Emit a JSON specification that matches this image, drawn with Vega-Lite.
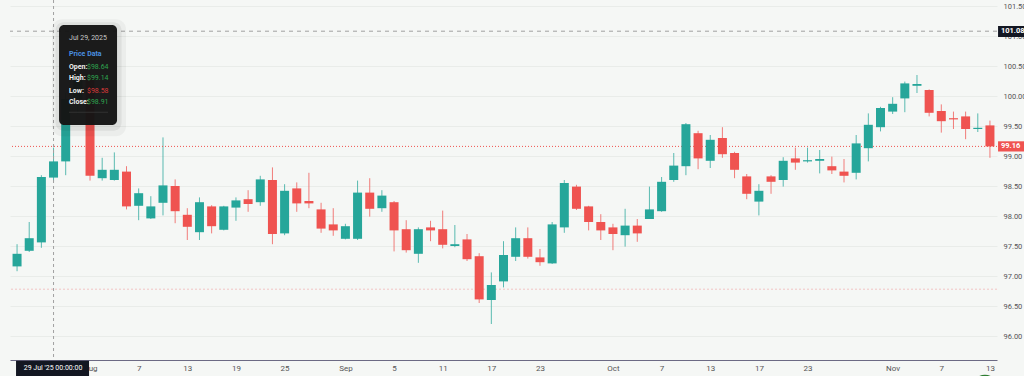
{
  "$schema": "https://vega.github.io/schema/vega-lite/v6.json",
  "width": 987,
  "height": 360,
  "autosize": {"type": "none"},
  "padding": {"left": 10, "top": 0, "right": 27, "bottom": 16},
  "background": "#f5f7f5",
  "config": {
    "view": {"stroke": null},
    "font": "Roboto",
    "text": {"font": "Roboto"}
  },
  "datasets": {
    "ohlc": [
      {"date": "2025-07-24", "open": 97.16, "high": 97.53, "low": 97.08, "close": 97.37},
      {"date": "2025-07-25", "open": 97.42, "high": 97.90, "low": 97.40, "close": 97.63},
      {"date": "2025-07-28", "open": 97.56, "high": 98.68, "low": 97.47, "close": 98.65},
      {"date": "2025-07-29", "open": 98.64, "high": 99.14, "low": 98.58, "close": 98.91},
      {"date": "2025-07-30", "open": 98.91, "high": 100.05, "low": 98.68, "close": 99.95},
      {"date": "2025-07-31", "open": 99.95, "high": 100.55, "low": 99.70, "close": 100.35},
      {"date": "2025-08-01", "open": 100.30, "high": 100.40, "low": 98.59, "close": 98.67},
      {"date": "2025-08-04", "open": 98.63, "high": 98.97, "low": 98.59, "close": 98.77},
      {"date": "2025-08-05", "open": 98.60, "high": 99.06, "low": 98.59, "close": 98.77},
      {"date": "2025-08-06", "open": 98.74, "high": 98.83, "low": 98.11, "close": 98.16},
      {"date": "2025-08-07", "open": 98.17, "high": 98.46, "low": 97.93, "close": 98.38},
      {"date": "2025-08-08", "open": 97.96, "high": 98.33, "low": 97.95, "close": 98.16},
      {"date": "2025-08-11", "open": 98.22, "high": 99.31, "low": 98.01, "close": 98.51},
      {"date": "2025-08-12", "open": 98.50, "high": 98.61, "low": 97.88, "close": 98.08},
      {"date": "2025-08-13", "open": 98.02, "high": 98.13, "low": 97.60, "close": 97.82},
      {"date": "2025-08-14", "open": 97.73, "high": 98.31, "low": 97.60, "close": 98.23},
      {"date": "2025-08-15", "open": 98.16, "high": 98.18, "low": 97.71, "close": 97.83},
      {"date": "2025-08-18", "open": 97.77, "high": 98.17, "low": 97.76, "close": 98.16},
      {"date": "2025-08-19", "open": 98.14, "high": 98.31, "low": 97.92, "close": 98.26},
      {"date": "2025-08-20", "open": 98.28, "high": 98.43, "low": 98.07, "close": 98.20},
      {"date": "2025-08-21", "open": 98.23, "high": 98.67, "low": 98.17, "close": 98.61},
      {"date": "2025-08-22", "open": 98.60, "high": 98.81, "low": 97.53, "close": 97.70},
      {"date": "2025-08-25", "open": 97.71, "high": 98.53, "low": 97.68, "close": 98.42},
      {"date": "2025-08-26", "open": 98.46, "high": 98.56, "low": 98.07, "close": 98.21},
      {"date": "2025-08-27", "open": 98.25, "high": 98.72, "low": 98.13, "close": 98.21},
      {"date": "2025-08-28", "open": 98.11, "high": 98.22, "low": 97.72, "close": 97.79},
      {"date": "2025-08-29", "open": 97.86, "high": 98.13, "low": 97.67, "close": 97.76},
      {"date": "2025-09-01", "open": 97.62, "high": 97.87, "low": 97.61, "close": 97.83},
      {"date": "2025-09-02", "open": 97.62, "high": 98.59, "low": 97.60, "close": 98.39},
      {"date": "2025-09-03", "open": 98.39, "high": 98.63, "low": 97.99, "close": 98.12},
      {"date": "2025-09-04", "open": 98.13, "high": 98.43, "low": 98.07, "close": 98.34},
      {"date": "2025-09-05", "open": 98.23, "high": 98.25, "low": 97.41, "close": 97.76},
      {"date": "2025-09-08", "open": 97.78, "high": 97.93, "low": 97.39, "close": 97.43},
      {"date": "2025-09-09", "open": 97.37, "high": 97.81, "low": 97.22, "close": 97.78},
      {"date": "2025-09-10", "open": 97.81, "high": 97.92, "low": 97.58, "close": 97.76},
      {"date": "2025-09-11", "open": 97.78, "high": 98.09, "low": 97.46, "close": 97.52},
      {"date": "2025-09-12", "open": 97.50, "high": 97.85, "low": 97.48, "close": 97.53},
      {"date": "2025-09-15", "open": 97.61, "high": 97.70, "low": 97.25, "close": 97.28},
      {"date": "2025-09-16", "open": 97.33, "high": 97.38, "low": 96.55, "close": 96.61},
      {"date": "2025-09-17", "open": 96.60, "high": 97.06, "low": 96.20, "close": 96.85},
      {"date": "2025-09-18", "open": 96.91, "high": 97.58, "low": 96.81, "close": 97.35},
      {"date": "2025-09-19", "open": 97.32, "high": 97.81, "low": 97.25, "close": 97.63},
      {"date": "2025-09-22", "open": 97.63, "high": 97.81, "low": 97.29, "close": 97.32},
      {"date": "2025-09-23", "open": 97.31, "high": 97.45, "low": 97.17, "close": 97.23},
      {"date": "2025-09-24", "open": 97.21, "high": 97.90, "low": 97.20, "close": 97.86},
      {"date": "2025-09-25", "open": 97.81, "high": 98.60, "low": 97.72, "close": 98.55},
      {"date": "2025-09-26", "open": 98.49, "high": 98.52, "low": 98.10, "close": 98.12},
      {"date": "2025-09-29", "open": 98.16, "high": 98.17, "low": 97.76, "close": 97.90},
      {"date": "2025-09-30", "open": 97.90, "high": 98.03, "low": 97.60, "close": 97.76},
      {"date": "2025-10-01", "open": 97.81, "high": 97.87, "low": 97.43, "close": 97.70},
      {"date": "2025-10-02", "open": 97.68, "high": 98.12, "low": 97.49, "close": 97.84},
      {"date": "2025-10-03", "open": 97.84, "high": 97.95, "low": 97.57, "close": 97.71},
      {"date": "2025-10-06", "open": 97.95, "high": 98.49, "low": 97.95, "close": 98.11},
      {"date": "2025-10-07", "open": 98.08, "high": 98.65, "low": 98.07, "close": 98.57},
      {"date": "2025-10-08", "open": 98.60, "high": 99.05, "low": 98.57, "close": 98.84},
      {"date": "2025-10-09", "open": 98.83, "high": 99.55, "low": 98.68, "close": 99.53},
      {"date": "2025-10-10", "open": 99.38, "high": 99.42, "low": 98.78, "close": 98.96},
      {"date": "2025-10-13", "open": 98.92, "high": 99.35, "low": 98.80, "close": 99.27},
      {"date": "2025-10-14", "open": 99.30, "high": 99.48, "low": 98.97, "close": 99.03},
      {"date": "2025-10-15", "open": 99.05, "high": 99.07, "low": 98.63, "close": 98.77},
      {"date": "2025-10-16", "open": 98.66, "high": 98.70, "low": 98.28, "close": 98.37},
      {"date": "2025-10-17", "open": 98.24, "high": 98.53, "low": 98.01, "close": 98.42},
      {"date": "2025-10-20", "open": 98.66, "high": 98.68, "low": 98.37, "close": 98.57},
      {"date": "2025-10-21", "open": 98.60, "high": 98.98, "low": 98.49, "close": 98.92},
      {"date": "2025-10-22", "open": 98.96, "high": 99.14, "low": 98.77, "close": 98.89},
      {"date": "2025-10-23", "open": 98.91, "high": 99.14, "low": 98.89, "close": 98.93},
      {"date": "2025-10-24", "open": 98.92, "high": 99.10, "low": 98.71, "close": 98.95},
      {"date": "2025-10-27", "open": 98.83, "high": 98.99, "low": 98.70, "close": 98.76},
      {"date": "2025-10-28", "open": 98.74, "high": 98.95, "low": 98.56, "close": 98.67},
      {"date": "2025-10-29", "open": 98.72, "high": 99.35, "low": 98.61, "close": 99.21},
      {"date": "2025-10-30", "open": 99.13, "high": 99.71, "low": 98.91, "close": 99.52},
      {"date": "2025-10-31", "open": 99.48, "high": 99.82, "low": 99.41, "close": 99.80},
      {"date": "2025-11-03", "open": 99.74, "high": 99.98, "low": 99.70, "close": 99.87},
      {"date": "2025-11-04", "open": 99.96, "high": 100.24, "low": 99.73, "close": 100.21},
      {"date": "2025-11-05", "open": 100.17, "high": 100.35, "low": 100.05, "close": 100.20},
      {"date": "2025-11-06", "open": 100.10, "high": 100.11, "low": 99.66, "close": 99.72},
      {"date": "2025-11-07", "open": 99.75, "high": 99.86, "low": 99.39, "close": 99.58},
      {"date": "2025-11-10", "open": 99.63, "high": 99.74, "low": 99.45, "close": 99.61},
      {"date": "2025-11-11", "open": 99.66, "high": 99.74, "low": 99.28, "close": 99.45},
      {"date": "2025-11-12", "open": 99.45, "high": 99.71, "low": 99.40, "close": 99.47},
      {"date": "2025-11-13", "open": 99.51, "high": 99.59, "low": 98.97, "close": 99.16}
    ]
  },
  "data": {"name": "ohlc"},
  "layer": [
    {
      "mark": {"type": "rule", "strokeWidth": 1, "opacity": 0.75},
      "encoding": {
        "x": {
          "field": "date", "type": "ordinal",
          "scale": {"type": "point", "padding": 0.58},
          "axis": {
            "title": null,
            "values": ["2025-08-01", "2025-08-07", "2025-08-13", "2025-08-19", "2025-08-25", "2025-09-01", "2025-09-05", "2025-09-11", "2025-09-17", "2025-09-23", "2025-10-01", "2025-10-07", "2025-10-13", "2025-10-17", "2025-10-23", "2025-11-03", "2025-11-07", "2025-11-13"],
            "labelExpr": "datum.value == '2025-08-01' ? 'Aug' : datum.value == '2025-09-01' ? 'Sep' : datum.value == '2025-10-01' ? 'Oct' : datum.value == '2025-11-03' ? 'Nov' : '' + toNumber(substring(datum.value, 8, 10))",
            "labelAngle": 0,
            "labelFontSize": 8,
            "labelColor": "#555555",
            "labelFont": "Roboto",
            "labelPadding": 4,
            "labelOverlap": false,
            "ticks": false,
            "tickSize": 0,
            "domainColor": "#6c6a84",
            "domainWidth": 1,
            "grid": false
          }
        },
        "y": {
          "field": "low", "type": "quantitative",
          "scale": {"domain": [95.6, 101.6], "nice": false, "zero": false},
          "axis": {
            "orient": "right",
            "title": null,
            "values": [96, 96.5, 97, 97.5, 98, 98.5, 99, 99.5, 100, 100.5, 101, 101.5],
            "tickCount": 30,
            "format": ".2f",
            "labelFontSize": 7.5,
            "labelColor": "#555555",
            "labelFont": "Roboto",
            "labelPadding": 6,
            "labelOverlap": false,
            "labelBound": false,
            "ticks": false,
            "tickSize": 0,
            "domain": false,
            "grid": true,
            "gridColor": "#e9ece9",
            "gridWidth": 1
          }
        },
        "y2": {"field": "high"},
        "color": {"condition": {"test": "datum.close >= datum.open", "value": "#26a69a"}, "value": "#ef5350"}
      }
    },
    {
      "data": {"values": [{}]},
      "mark": {"type": "rule", "color": "#f2c4c4", "strokeWidth": 1, "strokeDash": [2, 2]},
      "encoding": {"y": {"datum": 96.78}}
    },
    {
      "transform": [{"filter": "datum.date == '2025-11-13'"}],
      "mark": {"type": "rule", "color": "#ef5350", "strokeWidth": 1, "strokeDash": [1, 2]},
      "encoding": {"y": {"field": "close", "type": "quantitative"}}
    },
    {
      "data": {"values": [{}]},
      "mark": {"type": "rule", "color": "#a0a0a0", "strokeWidth": 1, "strokeDash": [4, 4]},
      "encoding": {"y": {"datum": 101.08}}
    },
    {
      "transform": [{"filter": "datum.date == '2025-07-29'"}],
      "mark": {"type": "rule", "color": "#a0a0a0", "strokeWidth": 1, "strokeDash": [3, 3]},
      "encoding": {"x": {"field": "date", "type": "ordinal"}}
    },
    {
      "mark": {"type": "bar", "width": 9},
      "encoding": {
        "x": {"field": "date", "type": "ordinal"},
        "y": {"field": "open", "type": "quantitative"},
        "y2": {"field": "close"},
        "color": {"condition": {"test": "datum.close >= datum.open", "value": "#26a69a"}, "value": "#ef5350"}
      }
    },
    {
      "transform": [{"filter": "datum.date == '2025-07-29'"}],
      "mark": {"type": "bar", "width": 74, "xOffset": 35.5, "color": "#000000", "opacity": 0.04, "cornerRadius": 10},
      "encoding": {"x": {"field": "date", "type": "ordinal"}, "y": {"datum": 101.28}, "y2": {"datum": 99.33}}
    },
    {
      "transform": [{"filter": "datum.date == '2025-07-29'"}],
      "mark": {"type": "bar", "width": 66, "xOffset": 35, "color": "#000000", "opacity": 0.06, "cornerRadius": 8},
      "encoding": {"x": {"field": "date", "type": "ordinal"}, "y": {"datum": 101.23}, "y2": {"datum": 99.42}}
    },
    {
      "transform": [{"filter": "datum.date == '2025-07-29'"}],
      "mark": {"type": "bar", "width": 58, "xOffset": 34.5, "color": "#151515", "opacity": 0.97, "cornerRadius": 5},
      "encoding": {"x": {"field": "date", "type": "ordinal"}, "y": {"datum": 101.183}, "y2": {"datum": 99.517}}
    },
    {
      "transform": [{"filter": "datum.date == '2025-07-29'"}],
      "mark": {"type": "text", "text": "Jul 29, 2025", "align": "left", "baseline": "middle", "xOffset": 15.5, "fontSize": 7, "color": "#c8c8c8"},
      "encoding": {"x": {"field": "date", "type": "ordinal"}, "y": {"datum": 100.962}}
    },
    {
      "transform": [{"filter": "datum.date == '2025-07-29'"}],
      "mark": {"type": "text", "text": "Price Data", "align": "left", "baseline": "middle", "xOffset": 15.5, "fontSize": 7, "fontWeight": "bold", "color": "#4a8fe0"},
      "encoding": {"x": {"field": "date", "type": "ordinal"}, "y": {"datum": 100.70}}
    },
    {
      "transform": [{"filter": "datum.date == '2025-07-29'"}],
      "mark": {"type": "text", "text": "Open:", "align": "left", "baseline": "middle", "xOffset": 15.5, "fontSize": 7, "fontWeight": "bold", "color": "#f0f0f0"},
      "encoding": {"x": {"field": "date", "type": "ordinal"}, "y": {"datum": 100.478}}
    },
    {
      "transform": [{"filter": "datum.date == '2025-07-29'"}],
      "mark": {"type": "text", "align": "right", "baseline": "middle", "xOffset": 55, "fontSize": 7, "color": "#2ea44f"},
      "encoding": {"x": {"field": "date", "type": "ordinal"}, "y": {"datum": 100.478}, "text": {"field": "open", "type": "quantitative", "format": "$.2f"}}
    },
    {
      "transform": [{"filter": "datum.date == '2025-07-29'"}],
      "mark": {"type": "text", "text": "High:", "align": "left", "baseline": "middle", "xOffset": 15.5, "fontSize": 7, "fontWeight": "bold", "color": "#f0f0f0"},
      "encoding": {"x": {"field": "date", "type": "ordinal"}, "y": {"datum": 100.295}}
    },
    {
      "transform": [{"filter": "datum.date == '2025-07-29'"}],
      "mark": {"type": "text", "align": "right", "baseline": "middle", "xOffset": 55, "fontSize": 7, "color": "#2ea44f"},
      "encoding": {"x": {"field": "date", "type": "ordinal"}, "y": {"datum": 100.295}, "text": {"field": "high", "type": "quantitative", "format": "$.2f"}}
    },
    {
      "transform": [{"filter": "datum.date == '2025-07-29'"}],
      "mark": {"type": "text", "text": "Low:", "align": "left", "baseline": "middle", "xOffset": 15.5, "fontSize": 7, "fontWeight": "bold", "color": "#f0f0f0"},
      "encoding": {"x": {"field": "date", "type": "ordinal"}, "y": {"datum": 100.088}}
    },
    {
      "transform": [{"filter": "datum.date == '2025-07-29'"}],
      "mark": {"type": "text", "align": "right", "baseline": "middle", "xOffset": 55, "fontSize": 7, "color": "#d93a3a"},
      "encoding": {"x": {"field": "date", "type": "ordinal"}, "y": {"datum": 100.088}, "text": {"field": "low", "type": "quantitative", "format": "$.2f"}}
    },
    {
      "transform": [{"filter": "datum.date == '2025-07-29'"}],
      "mark": {"type": "text", "text": "Close:", "align": "left", "baseline": "middle", "xOffset": 15.5, "fontSize": 7, "fontWeight": "bold", "color": "#f0f0f0"},
      "encoding": {"x": {"field": "date", "type": "ordinal"}, "y": {"datum": 99.90}}
    },
    {
      "transform": [{"filter": "datum.date == '2025-07-29'"}],
      "mark": {"type": "text", "align": "right", "baseline": "middle", "xOffset": 55, "fontSize": 7, "color": "#2ea44f"},
      "encoding": {"x": {"field": "date", "type": "ordinal"}, "y": {"datum": 99.90}, "text": {"field": "close", "type": "quantitative", "format": "$.2f"}}
    },
    {
      "transform": [{"filter": "datum.date == '2025-07-29'"}],
      "mark": {"type": "tick", "size": 39, "thickness": 1, "xOffset": 35, "color": "#3c3c3c"},
      "encoding": {"x": {"field": "date", "type": "ordinal"}, "y": {"datum": 99.728}}
    },
    {
      "transform": [{"filter": "datum.date == '2025-11-13'"}],
      "mark": {"type": "bar", "width": 30, "xOffset": 23.1, "color": "#131722"},
      "encoding": {"x": {"field": "date", "type": "ordinal"}, "y": {"datum": 101.167}, "y2": {"datum": 100.983}}
    },
    {
      "transform": [{"filter": "datum.date == '2025-11-13'"}],
      "mark": {"type": "text", "text": "101.08", "align": "left", "baseline": "middle", "xOffset": 11, "fontSize": 7.5, "fontWeight": "bold", "color": "#ffffff"},
      "encoding": {"x": {"field": "date", "type": "ordinal"}, "y": {"datum": 101.08}}
    },
    {
      "transform": [{"filter": "datum.date == '2025-11-13'"}],
      "mark": {"type": "bar", "width": 30, "xOffset": 23.1, "color": "#ef5350"},
      "encoding": {"x": {"field": "date", "type": "ordinal"}, "y": {"datum": 99.245}, "y2": {"datum": 99.075}}
    },
    {
      "transform": [{"filter": "datum.date == '2025-11-13'"}],
      "mark": {"type": "text", "align": "left", "baseline": "middle", "xOffset": 11, "fontSize": 7.5, "fontWeight": "bold", "color": "#ffffff"},
      "encoding": {"x": {"field": "date", "type": "ordinal"}, "y": {"field": "close", "type": "quantitative"}, "text": {"field": "close", "type": "quantitative", "format": ".2f"}}
    },
    {
      "transform": [{"filter": "datum.date == '2025-07-29'"}],
      "mark": {"type": "bar", "width": 73, "xOffset": -1, "color": "#131722"},
      "encoding": {"x": {"field": "date", "type": "ordinal"}, "y": {"datum": 95.588}, "y2": {"datum": 95.3}}
    },
    {
      "transform": [{"filter": "datum.date == '2025-07-29'"}],
      "mark": {"type": "text", "text": "29 Jul '25   00:00:00", "align": "center", "baseline": "middle", "xOffset": -0.5, "fontSize": 7, "color": "#ffffff"},
      "encoding": {"x": {"field": "date", "type": "ordinal"}, "y": {"datum": 95.467}}
    },
    {
      "transform": [{"filter": "datum.date == '2025-11-13'"}],
      "mark": {"type": "point", "filled": true, "size": 700, "xOffset": -5, "yOffset": 28, "color": "#2e7d32", "opacity": 1},
      "encoding": {"x": {"field": "date", "type": "ordinal"}, "y": {"datum": 95.6}}
    }
  ]
}
